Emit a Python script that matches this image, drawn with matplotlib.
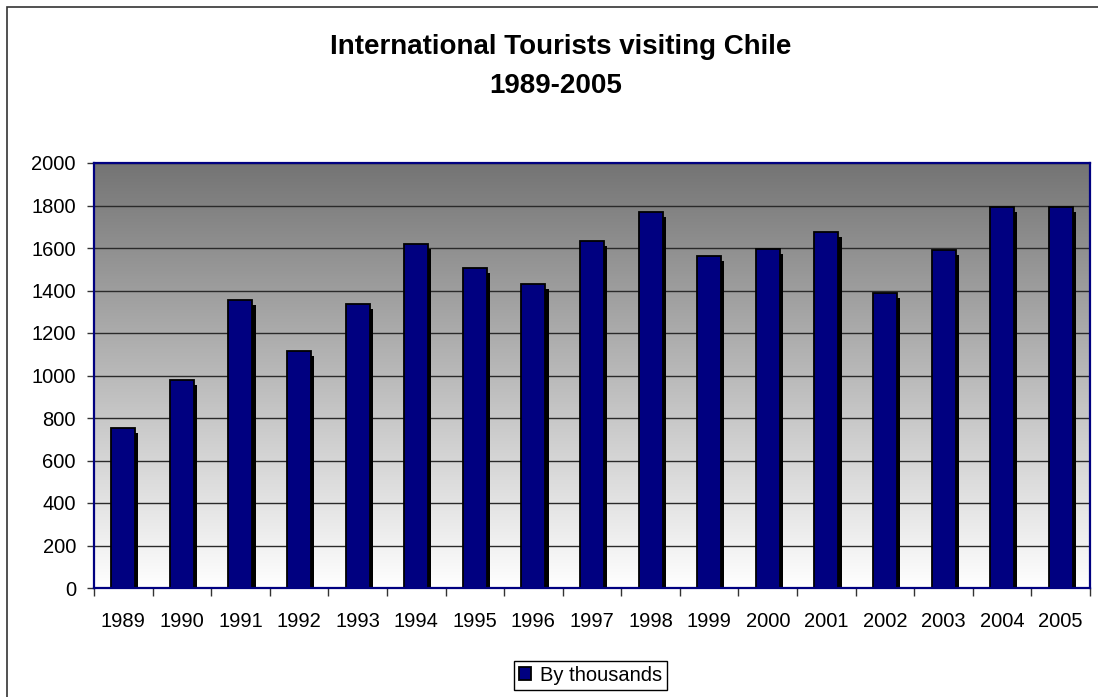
import numpy as np
import matplotlib
matplotlib.use('Agg')
import matplotlib.pyplot as plt
import matplotlib.patheffects as pe
from matplotlib.patches import Rectangle

plt.rcParams['font.family'] = ['Liberation Sans', 'DejaVu Sans']

# Data
years = ['1989', '1990', '1991', '1992', '1993', '1994', '1995', '1996', '1997',
         '1998', '1999', '2000', '2001', '2002', '2003', '2004', '2005']
tourists = [755, 978, 1356, 1113, 1336, 1620, 1508, 1431, 1631,
            1769, 1562, 1593, 1675, 1390, 1592, 1793, 1795]
series_name = 'By thousands'
title_lines = ['International Tourists visiting Chile', '1989-2005']
y_ticks = [0, 200, 400, 600, 800, 1000, 1200, 1400, 1600, 1800, 2000]

navy = '#000080'

fig = plt.figure(figsize=(10.98, 6.97), dpi=100)
ax = fig.add_axes([94 / 1098, 1 - 588 / 697, (1090 - 94) / 1098, (588 - 163) / 697])

# grey-to-white gradient in plot area
grad = np.linspace(0, 1, 256).reshape(-1, 1)
cmap = matplotlib.colors.LinearSegmentedColormap.from_list('g', ['#ffffff', '#747474'])
ax.imshow(grad, extent=[0, 1, 0, 1], transform=ax.transAxes, cmap=cmap,
          aspect='auto', origin='lower', zorder=0)

x = np.arange(len(years))
bars = ax.bar(x, tourists, width=0.41, color=navy, edgecolor='black',
              linewidth=1.3, zorder=3)
for b in bars:
    b.set_path_effects([pe.SimplePatchShadow(offset=(2.3, -3.6), shadow_rgbFace='black',
                                             alpha=1.0), pe.Normal()])

ax.set_xlim(-0.5, len(years) - 0.5)
ax.set_ylim(0, 2000)
ax.set_yticks(y_ticks)
ax.yaxis.grid(True, color='#2a2a2a', linewidth=1.0, zorder=1)
ax.set_axisbelow(True)

ax.set_xticks(x)
ax.set_xticklabels(years)
ax.set_xticks(np.arange(len(years) + 1) - 0.5, minor=True)
ax.tick_params(axis='x', which='major', length=0, pad=17, labelsize=14.5)
ax.tick_params(axis='x', which='minor', length=6, width=1, color='#333333', direction='out')
ax.tick_params(axis='y', length=5, width=1, color='#333333', pad=8, labelsize=14.5)

for s in ax.spines.values():
    s.set_color(navy)
    s.set_linewidth(1.6)
    s.set_zorder(4)

fig.text(0.511, 1 - 54 / 697, title_lines[0], ha='center', va='baseline',
         fontsize=20, fontweight='bold')
fig.text(0.506, 1 - 93 / 697, title_lines[1], ha='center', va='baseline',
         fontsize=20, fontweight='bold')

leg = fig.legend([bars], [series_name], loc='center', bbox_to_anchor=(0.538, 0.031),
                 fontsize=14.5, frameon=True, fancybox=False, edgecolor='black',
                 framealpha=1, handlelength=0.6, handleheight=0.6, handletextpad=0.45,
                 borderpad=0.25, borderaxespad=0)
leg.get_frame().set_linewidth(1.0)
for h in leg.legend_handles:
    h.set_path_effects([])

# outer chart border (only top and left visible in frame)
fig.add_artist(Rectangle((7 / 1098, -0.2), 1.5, 1 - 7 / 697 + 0.2, transform=fig.transFigure,
                         fill=False, edgecolor='#333333', linewidth=1.2))

fig.savefig('out.png', dpi=100)
